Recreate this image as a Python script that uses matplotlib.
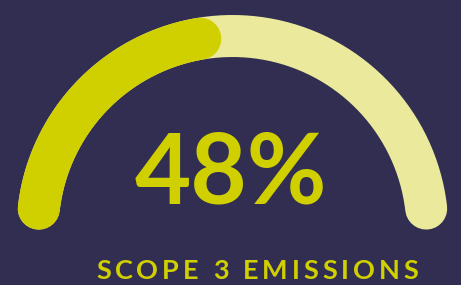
import numpy as np
import matplotlib.pyplot as plt

# gauge data
value = 48
total = 100
value_label = "48%"
caption = "SCOPE 3 EMISSIONS"

bg = "#312e52"
track_col = "#ebe99b"
fill_col = "#d0cf00"

W, H = 461, 285
fig = plt.figure(figsize=(W / 100, H / 100), dpi=100)
fig.patch.set_facecolor(bg)
ax = fig.add_axes([0, 0, 1, 1])
ax.set_facecolor(bg)
ax.set_xlim(0, W)
ax.set_ylim(H, 0)
ax.axis("off")

cx, cy, r = 232.5, 231.0, 195.0
stroke = 42
start, end = 173.4, 6.6
lw = stroke * 72 / 100


def arc(a0, a1, color):
    t = np.radians(np.linspace(a0, a1, 300))
    ax.plot(cx + r * np.cos(t), cy - r * np.sin(t), color=color, lw=lw,
            solid_capstyle="round")


arc(start, end, track_col)
# end of the rounded cap sits at the value position
cap = np.degrees((stroke / 2) / r)
a_val = start - (value / total) * (start - end)
arc(start, a_val + cap, fill_col)

ax.text(231, 203, value_label, color=fill_col, fontsize=70, fontfamily="Lato",
        fontweight="bold", ha="center", va="baseline")

# letter-spaced caption
fig.canvas.draw()
rend = fig.canvas.get_renderer()
fs = 19.5
x0, x1, base = 96, 418, 279


def width(s):
    if not s:
        return 0.0
    t = ax.text(0, 0, s + "|", fontsize=fs, fontfamily="Lato", fontweight="bold")
    bar = ax.text(0, 0, "|", fontsize=fs, fontfamily="Lato", fontweight="bold")
    w = t.get_window_extent(rend).width - bar.get_window_extent(rend).width
    t.remove()
    bar.remove()
    return w


n = len(caption)
natural = width(caption)
track = (x1 - x0 - natural) / (n - 1)
for i, ch in enumerate(caption):
    if ch == " ":
        continue
    x = x0 + width(caption[:i]) + i * track
    ax.text(x, base, ch, color=fill_col, fontsize=fs, fontfamily="Lato",
            fontweight="bold", ha="left", va="baseline")

fig.savefig("out.png", dpi=100, facecolor=bg)
